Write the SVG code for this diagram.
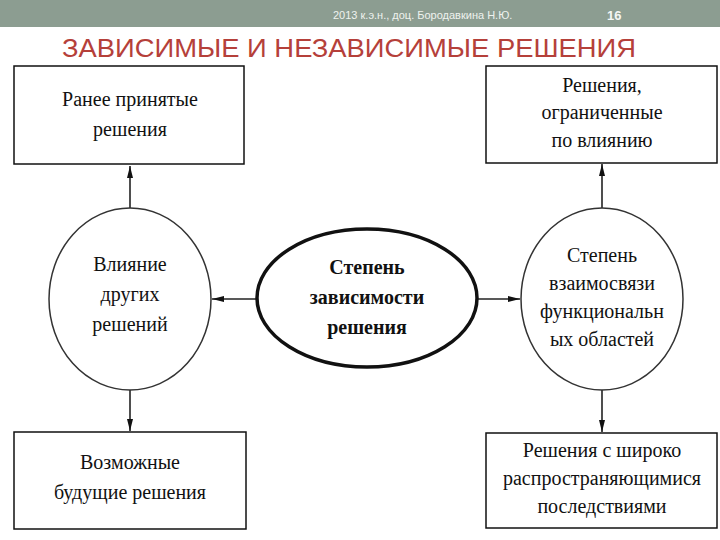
<svg xmlns="http://www.w3.org/2000/svg" width="720" height="540" viewBox="0 0 720 540">
<defs>
<marker id="ah" markerWidth="12" markerHeight="6" refX="12" refY="3" orient="auto" markerUnits="userSpaceOnUse">
<path d="M0,0 L12,3 L0,6 z" fill="#111"/>
</marker>
<style>
.box{fill:#fff;stroke:#111;stroke-width:1.5}
.circ{fill:#fff;stroke:#333;stroke-width:1.5}
.main{fill:#fff;stroke:#111;stroke-width:3.5}
.t{font-family:"Liberation Serif","DejaVu Serif",serif;font-size:20px;fill:#111;text-anchor:middle}
.b{font-weight:bold}
.c{stroke:#222;stroke-width:1.6;fill:none;marker-end:url(#ah)}
</style>
</defs>
<rect x="0" y="0" width="720" height="540" fill="#fff"/>
<rect x="0" y="0" width="720" height="27" fill="#8c9d91"/>
<text x="333" y="19" font-family="Liberation Sans, Arial, sans-serif" font-size="11" fill="#eef2ee">2013  к.э.н., доц. Бородавкина Н.Ю.</text>
<text x="607" y="20" font-family="Liberation Sans, Arial, sans-serif" font-size="13" font-weight="bold" fill="#f4f6f4">16</text>
<text x="62" y="57" font-family="Liberation Sans, Arial, sans-serif" font-size="26" fill="#b5403a" textLength="574" lengthAdjust="spacingAndGlyphs">ЗАВИСИМЫЕ И НЕЗАВИСИМЫЕ РЕШЕНИЯ</text>

<g id="connectors">
<line class="c" x1="130" y1="208" x2="130" y2="166"/>
<line class="c" x1="130" y1="390" x2="130" y2="431"/>
<line class="c" x1="602" y1="208" x2="602" y2="164"/>
<line class="c" x1="602" y1="390" x2="602" y2="432"/>
<line class="c" x1="257" y1="299" x2="212" y2="299"/>
<line class="c" x1="477" y1="299" x2="520" y2="299"/>
</g>

<g id="n-prev">
<rect class="box" x="14" y="66" width="230" height="98"/>
<text class="t" x="130" y="106">Ранее принятые</text>
<text class="t" x="130" y="136">решения</text>
</g>
<g id="n-limited">
<rect class="box" x="486" y="66" width="231" height="97"/>
<text class="t" x="602" y="92">Решения,</text>
<text class="t" x="602" y="119">ограниченные</text>
<text class="t" x="602" y="147">по влиянию</text>
</g>
<g id="n-influence">
<ellipse class="circ" cx="130" cy="299" rx="81" ry="91"/>
<text class="t" x="130" y="271">Влияние</text>
<text class="t" x="130" y="301">других</text>
<text class="t" x="130" y="331">решений</text>
</g>
<g id="n-degree">
<ellipse class="main" cx="367" cy="298" rx="110" ry="69"/>
<text class="t b" x="367" y="274">Степень</text>
<text class="t b" x="367" y="304">зависимости</text>
<text class="t b" x="367" y="334">решения</text>
</g>
<g id="n-relation">
<ellipse class="circ" cx="602" cy="299" rx="81" ry="91"/>
<text class="t" x="602" y="262">Степень</text>
<text class="t" x="602" y="290">взаимосвязи</text>
<text class="t" x="602" y="318">функциональн</text>
<text class="t" x="602" y="346">ых областей</text>
</g>
<g id="n-future">
<rect class="box" x="14" y="432" width="232" height="97"/>
<text class="t" x="130" y="469">Возможные</text>
<text class="t" x="130" y="499">будущие решения</text>
</g>
<g id="n-wide">
<rect class="box" x="486" y="433" width="231" height="95"/>
<text class="t" x="602" y="457">Решения с широко</text>
<text class="t" x="602" y="485">распространяющимися</text>
<text class="t" x="602" y="513">последствиями</text>
</g>
</svg>
